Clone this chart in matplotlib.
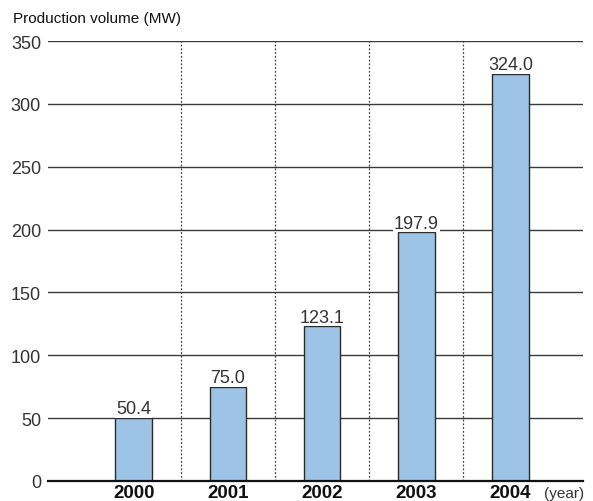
"""Production volume bar chart, 2000-2004."""

import matplotlib
matplotlib.use("Agg")
import matplotlib.pyplot as plt
import numpy as np

YEARS = ["2000", "2001", "2002", "2003", "2004"]
VOLUME_MW = [50.4, 75.0, 123.1, 197.9, 324.0]
Y_TICKS = [0, 50, 100, 150, 200, 250, 300, 350]

BAR_COLOR = "#9dc3e6"
EDGE_COLOR = "#2b2b2b"
TEXT_COLOR = "#333333"


def main() -> None:
    plt.rcParams["font.family"] = ["Liberation Sans", "DejaVu Sans"]

    fig = plt.figure(figsize=(5.93, 5.02), dpi=100)
    ax = fig.add_axes([0.081, 0.040, 0.902, 0.876])

    x = np.arange(len(YEARS))
    ax.set_xlim(-0.91, 4.77)
    ax.set_ylim(0, 350)

    for y in Y_TICKS[1:]:
        ax.axhline(y, color="#3a3a3a", linewidth=1.0, zorder=1)
    for xd in x[:-1] + 0.5:
        ax.plot([xd, xd], [0, 350], color="#444444", linestyle=(0, (1.5, 1.5)),
                linewidth=0.9, zorder=1)

    ax.bar(x, VOLUME_MW, width=0.39, color=BAR_COLOR, edgecolor=EDGE_COLOR,
           linewidth=1.0, zorder=3)
    for xi, v in zip(x, VOLUME_MW):
        ax.annotate(f"{v:.1f}", (xi, v), xytext=(0, 0.5), textcoords="offset points",
                    ha="center", va="bottom", fontsize=13, color=TEXT_COLOR,
                    bbox=dict(boxstyle="square,pad=0.05", fc="white", ec="none"),
                    zorder=4)

    ax.axhline(0, color="#111111", linewidth=1.6, zorder=5, clip_on=False)

    for side in ["top", "right", "left", "bottom"]:
        ax.spines[side].set_visible(False)

    ax.set_yticks(Y_TICKS)
    ax.set_yticklabels([str(t) for t in Y_TICKS], fontsize=13, color=TEXT_COLOR)
    ax.tick_params(axis="y", length=0, pad=5)
    ax.set_xticks(x)
    ax.set_xticklabels(YEARS, fontsize=13.5, fontweight="bold", color="#111111")
    ax.tick_params(axis="x", length=0, pad=2)

    ax.annotate("(year)", (4.36, 0), xytext=(0, -4), textcoords="offset points",
                ha="left", va="top", fontsize=11, color=TEXT_COLOR)
    fig.text(0.022, 0.962, "Production volume (MW)", ha="left", va="center",
             fontsize=11, color="#111111")

    fig.savefig("out.png", dpi=100)


if __name__ == "__main__":
    main()
